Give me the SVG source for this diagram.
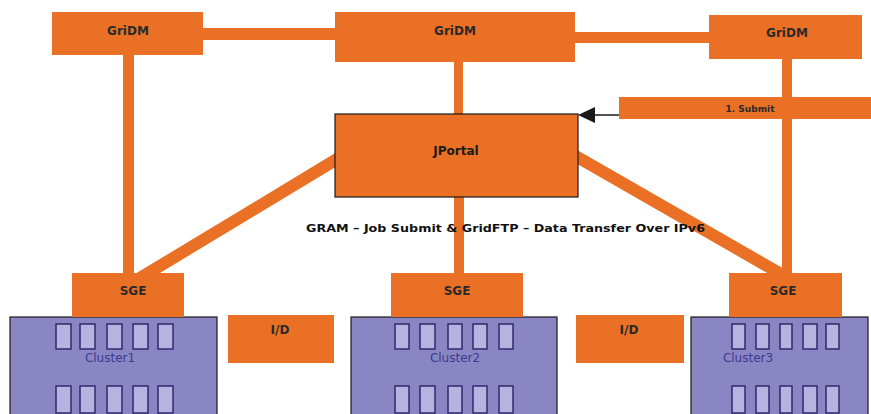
<svg xmlns="http://www.w3.org/2000/svg" width="871" height="414" viewBox="0 0 871 414">
<defs>
<style>
.box{fill:#E97024;}
.jp{fill:#E97024;stroke:#1a1a1a;stroke-width:1.2;}
.cl{fill:#8A86C4;stroke:#1a1a1a;stroke-width:1.2;}
.node{fill:#B5B3E0;stroke:#33296E;stroke-width:1.5;}
.t{font-family:"DejaVu Sans",sans-serif;font-size:12px;font-weight:bold;fill:#2a2a2a;text-anchor:middle;}
.ct{font-family:"DejaVu Sans",sans-serif;font-size:12px;fill:#3B3A8E;text-anchor:middle;}
.bar{fill:#E97024;}
.diag{stroke:#E97024;stroke-width:12;}
</style>
</defs>
<rect width="871" height="414" fill="#ffffff"/>
<g id="connectors">
<rect class="bar" x="200" y="28" width="140" height="12"/>
<rect class="bar" x="570" y="32" width="142" height="11"/>
<rect class="bar" x="123" y="52" width="11" height="224"/>
<rect class="bar" x="454" y="60" width="9" height="56"/>
<rect class="bar" x="782" y="56" width="10" height="220"/>
<rect class="bar" x="454" y="195" width="10" height="80"/>
<line class="diag" x1="342" y1="156" x2="140" y2="278"/>
<line class="diag" x1="572" y1="154" x2="788" y2="278"/>
<line x1="619" y1="115" x2="594" y2="115" stroke="#1a1a1a" stroke-width="1.5"/>
<polygon points="578,115 595,107 595,123" fill="#1a1a1a"/>
</g>
<g id="gridm1"><rect class="box" x="52" y="12" width="151" height="43"/><text class="t" x="128" y="35">GriDM</text></g>
<g id="gridm2"><rect class="box" x="335" y="12" width="240" height="50"/><text class="t" x="455" y="35">GriDM</text></g>
<g id="gridm3"><rect class="box" x="709" y="15" width="153" height="44"/><text class="t" x="787" y="37">GriDM</text></g>
<g id="submit"><rect class="box" x="619" y="97" width="252" height="22"/><text class="t" x="750" y="112" style="font-size:9px">1. Submit</text></g>
<g id="jportal"><rect class="jp" x="335" y="114" width="243" height="83"/><text class="t" x="456" y="155" style="fill:#1a1a1a">JPortal</text></g>
<text id="label" x="306" y="232" textLength="399" lengthAdjust="spacingAndGlyphs" style="font-family:'DejaVu Sans',sans-serif;font-size:11px;font-weight:bold;fill:#111">GRAM – Job Submit &amp; GridFTP – Data Transfer Over IPv6</text>
<g id="cluster1">
<rect class="cl" x="10" y="317" width="207" height="100"/>
<rect class="node" x="56" y="324" width="15" height="25"/><rect class="node" x="80" y="324" width="15" height="25"/><rect class="node" x="107" y="324" width="15" height="25"/><rect class="node" x="133" y="324" width="15" height="25"/><rect class="node" x="158" y="324" width="15" height="25"/>
<rect class="node" x="56" y="386" width="15" height="27"/><rect class="node" x="80" y="386" width="15" height="27"/><rect class="node" x="107" y="386" width="15" height="27"/><rect class="node" x="133" y="386" width="15" height="27"/><rect class="node" x="158" y="386" width="15" height="27"/>
<text class="ct" x="110" y="362">Cluster1</text>
</g>
<g id="sge1"><rect class="box" x="72" y="273" width="112" height="44"/><text class="t" x="133" y="295">SGE</text></g>
<g id="cluster2">
<rect class="cl" x="351" y="317" width="206" height="100"/>
<rect class="node" x="395" y="324" width="14" height="25"/><rect class="node" x="420" y="324" width="15" height="25"/><rect class="node" x="448" y="324" width="14" height="25"/><rect class="node" x="473" y="324" width="14" height="25"/><rect class="node" x="499" y="324" width="14" height="25"/>
<rect class="node" x="395" y="386" width="14" height="27"/><rect class="node" x="420" y="386" width="15" height="27"/><rect class="node" x="448" y="386" width="14" height="27"/><rect class="node" x="473" y="386" width="14" height="27"/><rect class="node" x="499" y="386" width="14" height="27"/>
<text class="ct" x="455" y="362">Cluster2</text>
</g>
<g id="sge2"><rect class="box" x="391" y="273" width="132" height="44"/><text class="t" x="457" y="295">SGE</text></g>
<g id="cluster3">
<rect class="cl" x="691" y="317" width="177" height="100"/>
<rect class="node" x="732" y="324" width="13" height="25"/><rect class="node" x="756" y="324" width="13" height="25"/><rect class="node" x="780" y="324" width="12" height="25"/><rect class="node" x="803" y="324" width="14" height="25"/><rect class="node" x="826" y="324" width="13" height="25"/>
<rect class="node" x="732" y="386" width="13" height="27"/><rect class="node" x="756" y="386" width="13" height="27"/><rect class="node" x="780" y="386" width="12" height="27"/><rect class="node" x="803" y="386" width="14" height="27"/><rect class="node" x="826" y="386" width="13" height="27"/>
<text class="ct" x="748" y="362">Cluster3</text>
</g>
<g id="sge3"><rect class="box" x="729" y="273" width="113" height="44"/><text class="t" x="783" y="295">SGE</text></g>
<g id="io1"><rect class="box" x="228" y="315" width="106" height="48"/><text class="t" x="280" y="334">I/D</text></g>
<g id="io2"><rect class="box" x="576" y="315" width="108" height="48"/><text class="t" x="629" y="334">I/D</text></g>
</svg>
